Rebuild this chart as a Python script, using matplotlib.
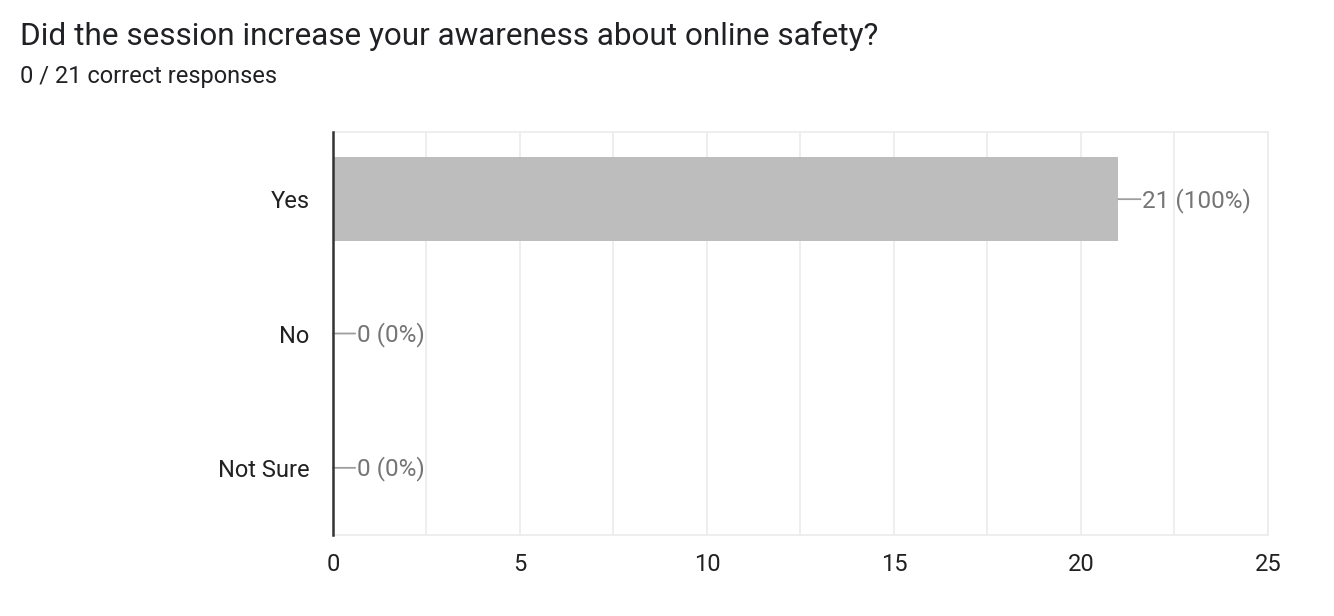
import matplotlib.pyplot as plt

# data
categories = ['Yes', 'No', 'Not Sure']
counts = [21, 0, 0]
total = 21
title = 'Did the session increase your awareness about online safety?'
subtitle = '0 / 21 correct responses'
xticks = [0, 5, 10, 15, 20, 25]

plt.rcParams['font.family'] = ['Roboto', 'DejaVu Sans']

fig = plt.figure(figsize=(13.34, 6.16), dpi=100)
ax = fig.add_axes([0.2496, 0.1315, 0.7009, 0.6542])

ypos = list(range(len(categories)))
ax.barh(ypos, counts, height=0.63, color='#bdbdbd', zorder=2)

for y, c in zip(ypos, counts):
    pct = round(100 * c / total)
    # leader line + label
    ax.annotate('', xy=(c, y), xytext=(16, 0), textcoords='offset points',
                xycoords='data',
                arrowprops=dict(arrowstyle='-', color='#9e9e9e', lw=1.3,
                                shrinkA=0, shrinkB=0), zorder=3)
    ax.annotate(f'{c} ({pct}%)', xy=(c, y), xytext=(17, -0.8),
                textcoords='offset points', va='center', ha='left',
                fontsize=17.5, color='#757575', zorder=3)

ax.set_ylim(2.5, -0.5)
ax.set_xlim(0, 25)
ax.set_yticks(ypos)
ax.set_yticklabels(categories)
ax.set_xticks(xticks)
ax.set_xticks([2.5, 7.5, 12.5, 17.5, 22.5], minor=True)
ax.grid(axis='x', which='both', color='#ebebeb', lw=1.2, zorder=0)
ax.tick_params(axis='both', which='both', length=0, labelsize=17,
               colors='#212121')
ax.tick_params(axis='y', pad=17)
ax.tick_params(axis='x', pad=13)

for s in ['top', 'right', 'bottom']:
    ax.spines[s].set_color('#ebebeb')
    ax.spines[s].set_linewidth(1.2)
ax.spines['left'].set_color('#333333')
ax.spines['left'].set_linewidth(1.8)
ax.spines['left'].set_zorder(4)

fig.text(0.015, 0.942, title, fontsize=22.7, color='#202124', va='center')
fig.text(0.015, 0.876, subtitle, fontsize=17, color='#202124', va='center')

fig.savefig('out.png', dpi=100)
